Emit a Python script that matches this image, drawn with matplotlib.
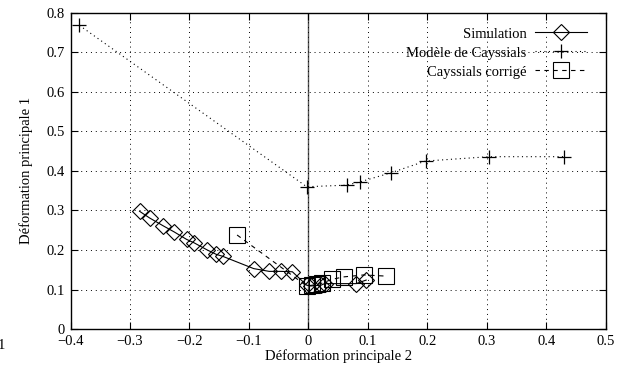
import matplotlib
matplotlib.use("Agg")
import matplotlib.pyplot as plt

# Simulation
sim_x = [-0.284, -0.267, -0.244, -0.226, -0.205, -0.192, -0.170, -0.155, -0.144,
         -0.092, -0.066, -0.046, -0.027, -0.003, 0.004, 0.021, 0.027, 0.080, 0.097]
sim_y = [0.298, 0.281, 0.261, 0.246, 0.227, 0.218, 0.200, 0.189, 0.184,
         0.153, 0.146, 0.146, 0.145, 0.111, 0.109, 0.111, 0.115, 0.115, 0.124]

# Modele de Cayssials
cay_x = [-0.385, -0.003, 0.064, 0.086, 0.138, 0.197, 0.304, 0.429]
cay_y = [0.768, 0.360, 0.364, 0.372, 0.395, 0.425, 0.436, 0.436]

# Cayssials corrige
cor_x = [-0.120, -0.003, 0.006, 0.015, 0.022, 0.040, 0.059, 0.093, 0.131]
cor_y = [0.238, 0.109, 0.111, 0.113, 0.116, 0.126, 0.132, 0.137, 0.134]

xticks = [-0.4, -0.3, -0.2, -0.1, 0, 0.1, 0.2, 0.3, 0.4, 0.5]
yticks = [0, 0.1, 0.2, 0.3, 0.4, 0.5, 0.6, 0.7, 0.8]

plt.rcParams['font.family'] = ['Liberation Serif', 'DejaVu Serif']
plt.rcParams['font.size'] = 10.5

fig = plt.figure(figsize=(6.24, 3.74), dpi=100)
ax = fig.add_axes([0.113, 0.120, 0.858, 0.846])

ax.set_xlim(-0.4, 0.5)
ax.set_ylim(0, 0.8)
ax.set_xticks(xticks)
ax.set_yticks(yticks)
ax.set_xticklabels(["\u22120.4", "\u22120.3", "\u22120.2", "\u22120.1", "0", "0.1", "0.2", "0.3", "0.4", "0.5"])
ax.set_yticklabels(["0", "0.1", "0.2", "0.3", "0.4", "0.5", "0.6", "0.7", "0.8"])
ax.tick_params(direction='in', top=True, right=True, length=5, width=0.8, pad=4)

ax.grid(True, color='black', linestyle=(0, (1, 4)), linewidth=0.7)
ax.axvline(0, color='#555555', linewidth=1.0, zorder=1.5)
for s in ax.spines.values():
    s.set_linewidth(1.0)

ax.plot(sim_x, sim_y, color='black', linewidth=0.8, marker='D', markersize=8.6,
        markerfacecolor='none', markeredgecolor='black', markeredgewidth=0.8,
        label='Simulation', zorder=3)
ax.plot(cay_x, cay_y, color='black', linewidth=0.8, linestyle=(0, (1, 3)), marker='+',
        markersize=10, markeredgewidth=0.9, label='Modèle de Cayssials', zorder=3)
ax.plot(cor_x, cor_y, color='black', linewidth=0.8, linestyle=(0, (4, 4)), marker='s',
        markersize=11.5, markerfacecolor='none', markeredgecolor='black',
        markeredgewidth=0.8, label='Cayssials corrigé', zorder=3)

leg = ax.legend(loc='upper right', markerfirst=False, frameon=False, handlelength=3.6,
                handletextpad=0.55, labelspacing=0.4, borderaxespad=0.6,
                bbox_to_anchor=(0.992, 1.0))
try:
    leg._legend_box._children[-1]._children[0].align = "right"
except Exception:
    pass

ax.set_xlabel('Déformation principale 2', labelpad=1)
ax.set_ylabel('Déformation principale 1', labelpad=10)

fig.text(-0.004, 0.075, '1', fontsize=10.5, ha='left', va='center')

fig.savefig('out.png', dpi=100)
